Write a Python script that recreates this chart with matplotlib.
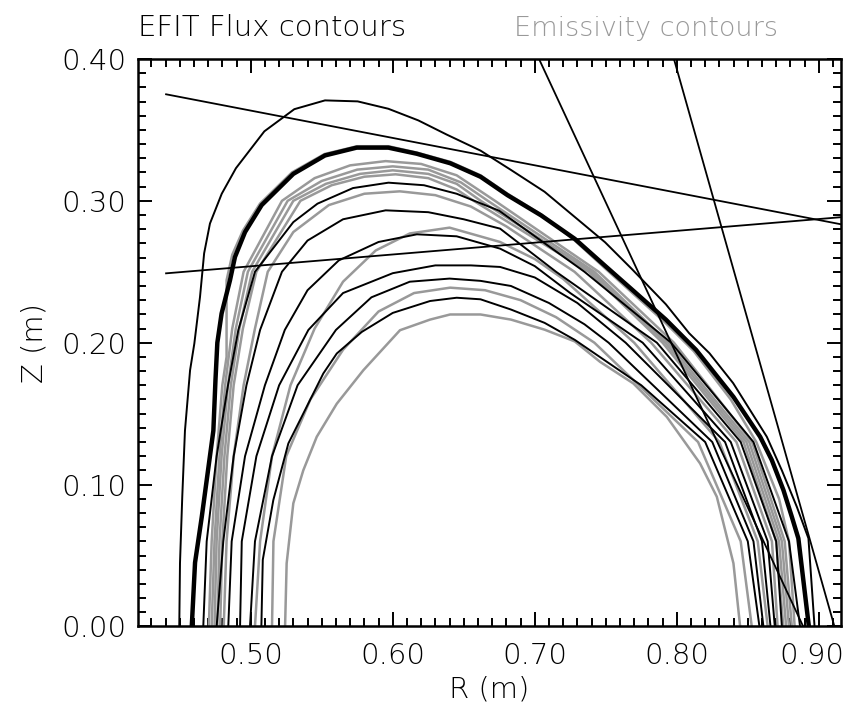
import matplotlib
matplotlib.use("Agg")
import matplotlib.pyplot as plt
from matplotlib.ticker import MultipleLocator, FormatStrFormatter
from matplotlib.transforms import ScaledTranslation

plt.rcParams['font.family'] = ['DejaVu Sans']
plt.rcParams['font.weight'] = 'light'
plt.rcParams['axes.labelweight'] = 'light'

# ---------------- data (R, Z in metres) ----------------
# EFIT flux contours (black)
efit_outer_R = [0.4497, 0.4502, 0.4518, 0.4537, 0.4573, 0.4603, 0.4643, 0.4672, 0.4713, 0.4796, 0.4896, 0.5096,
                0.5307, 0.5523, 0.5753, 0.5969, 0.618, 0.638, 0.6618, 0.6832, 0.7069, 0.7282, 0.7495, 0.7685,
                0.7923, 0.8087, 0.823, 0.8397, 0.8634, 0.874, 0.8845, 0.8927, 0.897]
efit_outer_Z = [0.0, 0.0445, 0.0914, 0.138, 0.1806, 0.1994, 0.2323, 0.263, 0.284, 0.305, 0.323, 0.349,
                0.3646, 0.3708, 0.3701, 0.3649, 0.3567, 0.3467, 0.3354, 0.3218, 0.3064, 0.2886, 0.2708, 0.2518,
                0.2271, 0.2067, 0.1926, 0.1715, 0.1337, 0.110, 0.0844, 0.0621, 0.0]

lcfs_R = [0.4585, 0.4608, 0.4655, 0.4694, 0.4737, 0.4752, 0.4765, 0.4795, 0.4854, 0.4889, 0.4960, 0.5077,
          0.530, 0.5523, 0.5746, 0.5969, 0.6169, 0.6405, 0.6618, 0.6808, 0.7044, 0.7282, 0.7495, 0.7709,
          0.7923, 0.8136, 0.8399, 0.8587, 0.8669, 0.8751, 0.881, 0.8856, 0.893]
lcfs_Z = [0.0, 0.045, 0.077, 0.106, 0.138, 0.174, 0.200, 0.2206, 0.244, 0.2604, 0.278, 0.297,
          0.319, 0.332, 0.3375, 0.3375, 0.3332, 0.3265, 0.317, 0.304, 0.2898, 0.2732, 0.2542, 0.2353,
          0.2163, 0.1949, 0.1618, 0.1337, 0.1173, 0.0961, 0.0773, 0.0621, 0.0]

efit2_R = [0.4666, 0.4690, 0.4760, 0.4840, 0.4913, 0.503, 0.530, 0.547, 0.572, 0.597, 0.622, 0.645, 0.675,
           0.735, 0.796, 0.854, 0.879, 0.8868]
efit2_Z = [0.0, 0.06, 0.12, 0.17, 0.209, 0.25, 0.285, 0.298, 0.309, 0.3128, 0.311, 0.305, 0.293,
           0.25, 0.20, 0.13, 0.06, 0.0]

efit3_R = [0.4760, 0.4807, 0.4880, 0.4970, 0.5066, 0.522, 0.540, 0.565, 0.595, 0.625, 0.650, 0.6756,
           0.715, 0.786, 0.845, 0.870, 0.874]
efit3_Z = [0.0, 0.06, 0.12, 0.17, 0.209, 0.25, 0.272, 0.287, 0.2933, 0.292, 0.287, 0.2804,
           0.25, 0.20, 0.13, 0.06, 0.0]

efit4_R = [0.4842, 0.4866, 0.4960, 0.5100, 0.524, 0.540, 0.562, 0.590, 0.617, 0.645, 0.6756, 0.700,
           0.725, 0.776, 0.838, 0.864, 0.869]
efit4_Z = [0.0, 0.06, 0.12, 0.17, 0.209, 0.237, 0.258, 0.271, 0.2764, 0.275, 0.2663, 0.254,
           0.235, 0.20, 0.13, 0.06, 0.0]

efit5_R = [0.4925, 0.4937, 0.5040, 0.5200, 0.5406, 0.565, 0.600, 0.630, 0.655, 0.6756, 0.700, 0.730,
           0.764, 0.834, 0.860, 0.866]
efit5_Z = [0.0, 0.06, 0.12, 0.17, 0.209, 0.235, 0.249, 0.2545, 0.2545, 0.2534, 0.246, 0.228,
           0.20, 0.13, 0.06, 0.0]

efit6_R = [0.4995, 0.503, 0.5150, 0.5330, 0.560, 0.585, 0.612, 0.640, 0.6618, 0.6832, 0.710, 0.735,
           0.752, 0.825, 0.854, 0.861]
efit6_Z = [0.0, 0.06, 0.12, 0.17, 0.209, 0.232, 0.243, 0.2452, 0.2436, 0.240, 0.228, 0.213,
           0.20, 0.13, 0.06, 0.0]

efit7_R = [0.5075, 0.5085, 0.5159, 0.5265, 0.5347, 0.5511, 0.5606, 0.5782, 0.600, 0.6263, 0.645, 0.6618,
           0.6832, 0.7069, 0.7282, 0.775, 0.820, 0.850, 0.8582]
efit7_Z = [0.0, 0.047, 0.089, 0.129, 0.1454, 0.1783, 0.1924, 0.2076, 0.221, 0.2294, 0.2317, 0.2306,
           0.2234, 0.214, 0.202, 0.17, 0.13, 0.06, 0.0]

# Emissivity contours (grey)
emis1_R = [0.4705, 0.4725, 0.4760, 0.4800, 0.4830, 0.4830, 0.4870, 0.4945, 0.5065, 0.529, 0.552, 0.575,
           0.597, 0.617, 0.6405, 0.6618, 0.6808, 0.7044, 0.7282, 0.750, 0.771, 0.792, 0.812, 0.838,
           0.856, 0.872, 0.879, 0.883]
emis1_Z = [0.0, 0.06, 0.12, 0.17, 0.19, 0.244, 0.262, 0.279, 0.298, 0.320, 0.333, 0.3385,
           0.3385, 0.334, 0.3275, 0.318, 0.305, 0.2905, 0.272, 0.252, 0.233, 0.214, 0.194, 0.160,
           0.13, 0.09, 0.06, 0.0]

emis2_R = [0.4725, 0.4745, 0.4780, 0.4820, 0.4870, 0.495, 0.522, 0.545, 0.570, 0.595, 0.620, 0.645,
           0.672, 0.745, 0.798, 0.853, 0.876, 0.881]
emis2_Z = [0.0, 0.06, 0.12, 0.17, 0.21, 0.25, 0.30, 0.316, 0.325, 0.328, 0.326, 0.318,
           0.30, 0.25, 0.20, 0.13, 0.06, 0.0]

emis3_R = [0.4745, 0.4760, 0.4795, 0.4840, 0.4895, 0.498, 0.526, 0.550, 0.575, 0.600, 0.625, 0.648,
           0.667, 0.742, 0.794, 0.851, 0.874, 0.879]
emis3_Z = [0.0, 0.06, 0.12, 0.17, 0.21, 0.25, 0.30, 0.314, 0.322, 0.3243, 0.322, 0.313,
           0.30, 0.25, 0.20, 0.13, 0.06, 0.0]

emis4_R = [0.4765, 0.4780, 0.4815, 0.4860, 0.4920, 0.501, 0.530, 0.553, 0.577, 0.600, 0.625, 0.645,
           0.662, 0.740, 0.792, 0.849, 0.872, 0.877]
emis4_Z = [0.0, 0.06, 0.12, 0.17, 0.21, 0.25, 0.30, 0.312, 0.319, 0.3215, 0.319, 0.312,
           0.30, 0.25, 0.20, 0.13, 0.06, 0.0]

emis5_R = [0.4785, 0.4800, 0.4835, 0.4880, 0.4945, 0.504, 0.535, 0.557, 0.580, 0.602, 0.625, 0.645,
           0.657, 0.738, 0.790, 0.847, 0.870, 0.875]
emis5_Z = [0.0, 0.06, 0.12, 0.17, 0.21, 0.25, 0.30, 0.311, 0.317, 0.3187, 0.316, 0.308,
           0.30, 0.25, 0.20, 0.13, 0.06, 0.0]

emis6_R = [0.4810, 0.4830, 0.4880, 0.4950, 0.5030, 0.512, 0.530, 0.555, 0.580, 0.605, 0.630, 0.655,
           0.680, 0.728, 0.782, 0.842, 0.867, 0.871]
emis6_Z = [0.0, 0.06, 0.12, 0.17, 0.21, 0.25, 0.278, 0.297, 0.305, 0.3067, 0.304, 0.296,
           0.282, 0.25, 0.20, 0.13, 0.06, 0.0]

emis7_R = [0.5030, 0.5066, 0.5150, 0.5280, 0.545, 0.565, 0.588, 0.612, 0.640, 0.6756, 0.700, 0.720,
           0.770, 0.830, 0.857, 0.864]
emis7_Z = [0.0, 0.06, 0.12, 0.17, 0.21, 0.243, 0.265, 0.277, 0.2811, 0.271, 0.259, 0.245,
           0.20, 0.13, 0.06, 0.0]

emis8_R = [0.5150, 0.5160, 0.5250, 0.5420, 0.565, 0.590, 0.615, 0.6404, 0.665, 0.690, 0.715, 0.742,
           0.815, 0.845, 0.8528]
emis8_Z = [0.0, 0.06, 0.12, 0.16, 0.195, 0.222, 0.235, 0.2388, 0.237, 0.230, 0.218, 0.20,
           0.13, 0.06, 0.0]

emis9_R = [0.5242, 0.5253, 0.530, 0.537, 0.5465, 0.5606, 0.5793, 0.6051, 0.6263, 0.6404, 0.6618, 0.6832,
           0.7069, 0.7282, 0.746, 0.7694, 0.793, 0.8164, 0.8282, 0.8399, 0.8446]
emis9_Z = [0.0, 0.0445, 0.0868, 0.110, 0.1337, 0.157, 0.1806, 0.2088, 0.2163, 0.2199, 0.2199, 0.2163,
           0.2092, 0.2009, 0.1865, 0.1713, 0.1477, 0.1149, 0.0914, 0.0445, 0.0]

# Lines of sight (chords): start (R, Z) and end (R, Z)
chord_R0 = [0.4404, 0.4404, 0.7030, 0.7980]
chord_Z0 = [0.3751, 0.2489, 0.4000, 0.4000]
chord_R1 = [0.9160, 0.9160, 0.8890, 0.9110]
chord_Z1 = [0.2834, 0.2885, 0.0000, 0.0000]

xticks = [0.50, 0.60, 0.70, 0.80, 0.90]
yticks = [0.00, 0.10, 0.20, 0.30, 0.40]

# ---------------- plotting ----------------
fig = plt.figure(figsize=(8.51, 7.19), dpi=100)
ax = fig.add_axes([0.1616, 0.1287, 0.8261, 0.7893])

grey = '#999999'
emis = [(emis1_R, emis1_Z), (emis2_R, emis2_Z), (emis3_R, emis3_Z), (emis4_R, emis4_Z),
        (emis5_R, emis5_Z), (emis6_R, emis6_Z), (emis7_R, emis7_Z), (emis8_R, emis8_Z),
        (emis9_R, emis9_Z)]
for r, z in emis:
    ax.plot(r, z, color=grey, lw=1.8)

efit = [(efit_outer_R, efit_outer_Z), (efit2_R, efit2_Z), (efit3_R, efit3_Z), (efit4_R, efit4_Z),
        (efit5_R, efit5_Z), (efit6_R, efit6_Z), (efit7_R, efit7_Z)]
for r, z in efit:
    ax.plot(r, z, color='black', lw=1.4)
ax.plot(lcfs_R, lcfs_Z, color='black', lw=3.2)

for r0, z0, r1, z1 in zip(chord_R0, chord_Z0, chord_R1, chord_Z1):
    ax.plot([r0, r1], [z0, z1], color='black', lw=1.3)

ax.set_xlim(0.4203, 0.9153)
ax.set_ylim(0.0, 0.40)
ax.set_xticks(xticks)
ax.set_yticks(yticks)
ax.xaxis.set_major_formatter(FormatStrFormatter('%.2f'))
ax.yaxis.set_major_formatter(FormatStrFormatter('%.2f'))
ax.xaxis.set_minor_locator(MultipleLocator(0.01))
ax.yaxis.set_minor_locator(MultipleLocator(0.01))
ax.tick_params(which='both', direction='in', top=True, right=True, width=1.4, colors='black')
ax.tick_params(which='major', length=10, labelsize=21)
ax.tick_params(axis='x', which='major', pad=11)
ax.tick_params(axis='y', which='major', pad=8)
ax.tick_params(which='minor', length=5.5)
for s in ax.spines.values():
    s.set_linewidth(1.8)

# keep the last x tick label inside the picture
last = ax.xaxis.get_major_ticks()[-1].label1
last.set_transform(last.get_transform() + ScaledTranslation(-5 / 72, 0, fig.dpi_scale_trans))

ax.set_xlabel('R (m)', fontsize=21, labelpad=4)
ax.set_ylabel('Z (m)', fontsize=21, labelpad=9)

fig.text(0.162, 0.961, 'EFIT Flux contours', fontsize=21, color='black', ha='left', va='center')
fig.text(0.604, 0.961, 'Emissivity contours', fontsize=19.5, color=grey, ha='left', va='center')

fig.savefig('out.png', dpi=100)
